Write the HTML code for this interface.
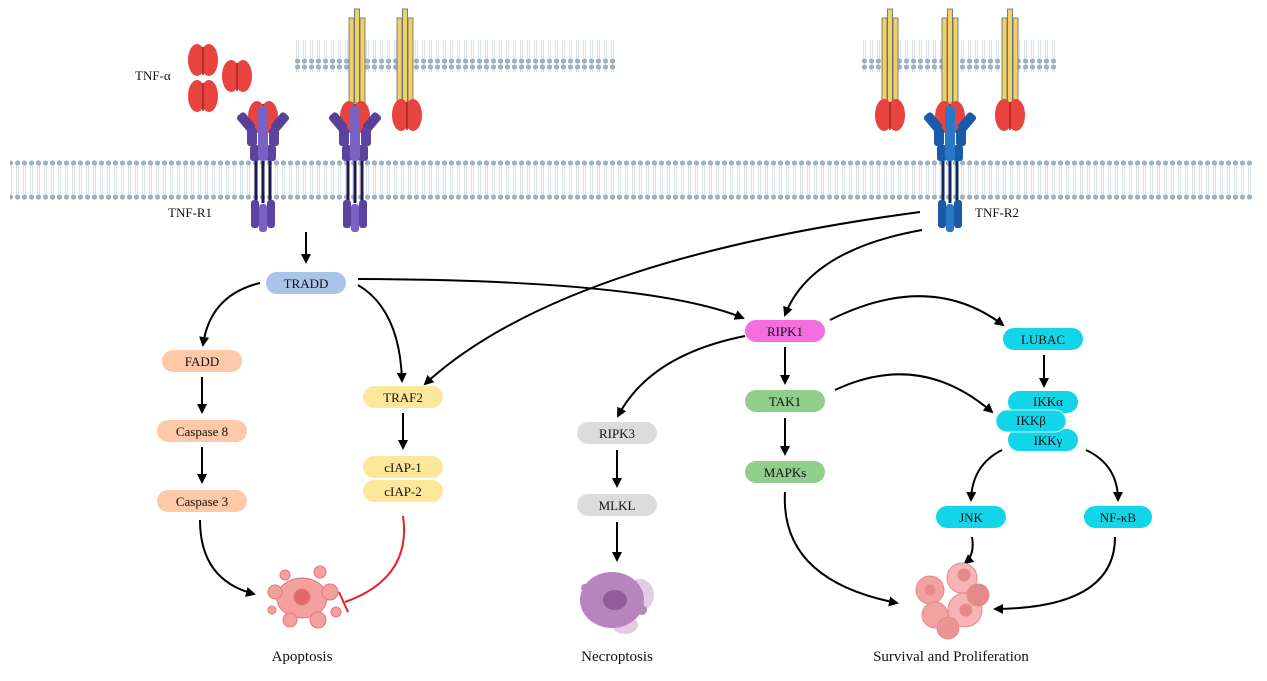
<!DOCTYPE html>
<html><head><meta charset="utf-8"><style>
body{margin:0;background:#fff}
svg{display:block}
text{font-family:"Liberation Serif",serif;font-size:13px;fill:#111}
</style></head><body>
<svg width="1267" height="681" viewBox="0 0 1267 681" xmlns="http://www.w3.org/2000/svg">
<defs>
<pattern id="dots" width="7" height="40" patternUnits="userSpaceOnUse">
<circle cx="3.5" cy="3" r="2.6" fill="#9fb0c4"/>
<circle cx="3.5" cy="37" r="2.6" fill="#9fb0c4"/>
<line x1="2.5" y1="6" x2="2.5" y2="34" stroke="#dbe3ec" stroke-width="1"/>
<line x1="4.5" y1="6" x2="4.5" y2="34" stroke="#dbe3ec" stroke-width="1"/>
</pattern>
<pattern id="dots2" width="7" height="32" patternUnits="userSpaceOnUse">
<circle cx="3.5" cy="3" r="2.6" fill="#9fb0c4"/>
<circle cx="3.5" cy="29" r="2.6" fill="#9fb0c4"/>
<line x1="2.5" y1="6" x2="2.5" y2="26" stroke="#dbe3ec" stroke-width="1"/>
<line x1="4.5" y1="6" x2="4.5" y2="26" stroke="#dbe3ec" stroke-width="1"/>
</pattern>
<marker id="ar" markerWidth="10" markerHeight="10" refX="8" refY="5" orient="auto" markerUnits="userSpaceOnUse">
<path d="M0,0 L10,5 L0,10 Z" fill="#000"/></marker>
<g id="lig">
<ellipse cx="-6" cy="0" rx="9" ry="16" fill="#e8443f"/>
<ellipse cx="6" cy="0" rx="9" ry="16" fill="#e8443f"/>
<line x1="0" y1="-13" x2="0" y2="15" stroke="#a82020" stroke-width="1.5"/>
</g>
<g id="stick">
<rect x="-8" y="0" width="5" height="85" fill="#f5d060" stroke="#4a6a8a" stroke-width="0.8"/>
<rect x="3" y="0" width="5" height="85" fill="#f5d060" stroke="#4a6a8a" stroke-width="0.8"/>
<rect x="-2.5" y="-9" width="5" height="94" fill="#f5d060" stroke="#4a6a8a" stroke-width="0.8"/>
</g>
<g id="rp">
<rect x="-22" y="-6" width="10" height="20" rx="3" transform="rotate(-40 -17 4)" fill="#56409a"/>
<rect x="12" y="-6" width="10" height="20" rx="3" transform="rotate(40 17 4)" fill="#56409a"/>
<rect x="-16" y="10" width="10" height="18" rx="3" fill="#5a44a0"/>
<rect x="6" y="10" width="10" height="18" rx="3" fill="#5a44a0"/>
<rect x="-13" y="27" width="10" height="16" rx="3" fill="#5a44a0"/>
<rect x="3" y="27" width="10" height="16" rx="3" fill="#5a44a0"/>
<rect x="-5" y="-12" width="10" height="55" rx="4" fill="#7a62c2"/>
<line x1="-7" y1="43" x2="-7" y2="85" stroke="#1e1a4a" stroke-width="3"/>
<line x1="0" y1="43" x2="0" y2="85" stroke="#1e1a4a" stroke-width="3"/>
<line x1="7" y1="43" x2="7" y2="85" stroke="#1e1a4a" stroke-width="3"/>
<rect x="-12" y="82" width="8" height="28" rx="3" fill="#5a44a0"/>
<rect x="4" y="82" width="8" height="28" rx="3" fill="#5a44a0"/>
<rect x="-4" y="86" width="8" height="28" rx="3" fill="#7a62c2"/>
</g>
<g id="rb">
<rect x="-22" y="-6" width="10" height="20" rx="3" transform="rotate(-40 -17 4)" fill="#1a5aa8"/>
<rect x="12" y="-6" width="10" height="20" rx="3" transform="rotate(40 17 4)" fill="#1a5aa8"/>
<rect x="-16" y="10" width="10" height="18" rx="3" fill="#1a5aa8"/>
<rect x="6" y="10" width="10" height="18" rx="3" fill="#1a5aa8"/>
<rect x="-13" y="27" width="10" height="16" rx="3" fill="#1a5aa8"/>
<rect x="3" y="27" width="10" height="16" rx="3" fill="#1a5aa8"/>
<rect x="-5" y="-12" width="10" height="55" rx="4" fill="#2c78c8"/>
<line x1="-7" y1="43" x2="-7" y2="85" stroke="#0c2a5a" stroke-width="3"/>
<line x1="0" y1="43" x2="0" y2="85" stroke="#0c2a5a" stroke-width="3"/>
<line x1="7" y1="43" x2="7" y2="85" stroke="#0c2a5a" stroke-width="3"/>
<rect x="-12" y="82" width="8" height="28" rx="3" fill="#1a5aa8"/>
<rect x="4" y="82" width="8" height="28" rx="3" fill="#1a5aa8"/>
<rect x="-4" y="86" width="8" height="28" rx="3" fill="#2c78c8"/>
</g>
</defs>

<rect x="10" y="160" width="1243" height="40" fill="url(#dots)"/>
<rect x="295" y="40" width="322" height="32" fill="url(#dots2)"/>
<rect x="860" y="40" width="196" height="32" fill="url(#dots2)"/>

<use href="#lig" x="203" y="60"/>
<use href="#lig" x="237" y="76"/>
<use href="#lig" x="203" y="96"/>

<use href="#stick" x="357" y="18"/>
<use href="#stick" x="405" y="18"/>
<use href="#stick" x="890" y="18"/>
<use href="#stick" x="950" y="18"/>
<use href="#stick" x="1010" y="18"/>
<use href="#lig" x="263" y="117"/>
<use href="#lig" x="355" y="117"/>
<use href="#lig" x="407" y="115"/>
<use href="#lig" x="890" y="115"/>
<use href="#lig" x="950" y="117"/>
<use href="#lig" x="1010" y="115"/>
<use href="#rp" x="263" y="118"/>
<use href="#rp" x="355" y="118"/>
<use href="#rb" x="950" y="118"/>

<text x="135" y="80">TNF-α</text>
<text x="168" y="217">TNF-R1</text>
<text x="975" y="217">TNF-R2</text>

<g fill="none" stroke="#000" stroke-width="2">
<path d="M306 232 V262" marker-end="url(#ar)"/>
<path d="M260 283 Q210 295 203 345" marker-end="url(#ar)"/>
<path d="M358 285 Q400 310 402 381" marker-end="url(#ar)"/>
<path d="M358 279 Q650 280 743 318" marker-end="url(#ar)"/>
<path d="M920 212 Q560 260 425 384" marker-end="url(#ar)"/>
<path d="M922 230 Q810 250 785 315" marker-end="url(#ar)"/>
<path d="M202 377 V412" marker-end="url(#ar)"/>
<path d="M202 447 V482" marker-end="url(#ar)"/>
<path d="M403 413 V448" marker-end="url(#ar)"/>
<path d="M200 520 Q200 580 254 594" marker-end="url(#ar)"/>
<path d="M745 336 Q650 355 618 416" marker-end="url(#ar)"/>
<path d="M617 450 V486" marker-end="url(#ar)"/>
<path d="M617 522 V560" marker-end="url(#ar)"/>
<path d="M785 347 V383" marker-end="url(#ar)"/>
<path d="M785 418 V454" marker-end="url(#ar)"/>
<path d="M830 320 Q930 270 1003 325" marker-end="url(#ar)"/>
<path d="M1044 355 V386" marker-end="url(#ar)"/>
<path d="M835 390 Q920 350 992 412" marker-end="url(#ar)"/>
<path d="M1002 450 Q972 465 971 500" marker-end="url(#ar)"/>
<path d="M1086 450 Q1118 465 1118 500" marker-end="url(#ar)"/>
<path d="M785 492 Q780 580 897 603" marker-end="url(#ar)"/>
<path d="M972 537 Q975 555 965 563" marker-end="url(#ar)"/>
<path d="M1115 537 Q1115 608 995 609" marker-end="url(#ar)"/>
</g>
<path d="M403 516 Q412 578 345 602" fill="none" stroke="#e8202a" stroke-width="2"/>
<line x1="339" y1="592" x2="348" y2="612" stroke="#e8202a" stroke-width="2"/>

<g>
<rect x="266" y="272" width="80" height="22" rx="11" fill="#a9c4e8"/>
<rect x="162" y="350" width="80" height="22" rx="11" fill="#fdc9a8"/>
<rect x="157" y="420" width="90" height="22" rx="11" fill="#fdc9a8"/>
<rect x="157" y="490" width="90" height="22" rx="11" fill="#fdc9a8"/>
<rect x="363" y="386" width="80" height="22" rx="11" fill="#fde79b"/>
<rect x="363" y="456" width="80" height="22" rx="11" fill="#fde79b"/>
<rect x="363" y="480" width="80" height="22" rx="11" fill="#fde79b"/>
<rect x="745" y="320" width="80" height="22" rx="11" fill="#f56ee0"/>
<rect x="745" y="390" width="80" height="22" rx="11" fill="#8fcf8b"/>
<rect x="745" y="461" width="80" height="22" rx="11" fill="#8fcf8b"/>
<rect x="577" y="422" width="80" height="22" rx="11" fill="#dcdcdc"/>
<rect x="577" y="494" width="80" height="22" rx="11" fill="#dcdcdc"/>
<rect x="1003" y="328" width="80" height="22" rx="11" fill="#13d5e8"/>
<rect x="1008" y="391" width="70" height="22" rx="11" fill="#13d5e8"/>
<rect x="1008" y="429" width="70" height="22" rx="11" fill="#13d5e8"/>
<rect x="996" y="410" width="70" height="22" rx="11" fill="#13d5e8" stroke="#bff4fa" stroke-width="1"/>
<rect x="936" y="506" width="70" height="22" rx="11" fill="#13d5e8"/>
<rect x="1084" y="506" width="68" height="22" rx="11" fill="#13d5e8"/>
</g>
<g text-anchor="middle">
<text x="306" y="288">TRADD</text>
<text x="202" y="366">FADD</text>
<text x="202" y="436">Caspase 8</text>
<text x="202" y="506">Caspase 3</text>
<text x="403" y="402">TRAF2</text>
<text x="403" y="472">cIAP-1</text>
<text x="403" y="496">cIAP-2</text>
<text x="785" y="336">RIPK1</text>
<text x="785" y="406">TAK1</text>
<text x="785" y="477">MAPKs</text>
<text x="617" y="438">RIPK3</text>
<text x="617" y="510">MLKL</text>
<text x="1043" y="344">LUBAC</text>
<text x="1048" y="406">IKKα</text>
<text x="1031" y="425">IKKβ</text>
<text x="1048" y="445">IKKγ</text>
<text x="971" y="522">JNK</text>
<text x="1118" y="522">NF-κB</text>
<text x="302" y="661" style="font-size:15px">Apoptosis</text>
<text x="617" y="661" style="font-size:15px">Necroptosis</text>
<text x="951" y="661" style="font-size:15px">Survival and Proliferation</text>
</g>

<g fill="#f4a0a0" stroke="#e07878" stroke-width="1">
<ellipse cx="302" cy="598" rx="25" ry="20"/>
<circle cx="275" cy="592" r="7"/><circle cx="330" cy="592" r="8"/>
<circle cx="290" cy="620" r="7"/><circle cx="318" cy="620" r="8"/>
<circle cx="285" cy="575" r="5"/><circle cx="320" cy="572" r="6"/>
<circle cx="272" cy="610" r="4"/><circle cx="336" cy="612" r="5"/>
<circle cx="302" cy="597" r="8" fill="#e06a6a"/>
</g>
<g>
<ellipse cx="640" cy="595" rx="14" ry="16" fill="#e4cce4"/>
<ellipse cx="625" cy="625" rx="13" ry="9" fill="#e4cce4"/>
<ellipse cx="612" cy="600" rx="32" ry="28" fill="#b884c0"/>
<circle cx="585" cy="588" r="4" fill="#b884c0"/>
<circle cx="642" cy="610" r="5" fill="#b884c0"/>
<ellipse cx="615" cy="600" rx="12" ry="10" fill="#935a9c"/>
</g>
<g stroke="#e88a8a" stroke-width="1">
<circle cx="930" cy="590" r="14" fill="#f2a2a2"/>
<circle cx="962" cy="578" r="15" fill="#f6b4b4"/>
<circle cx="935" cy="615" r="13" fill="#f2a2a2"/>
<circle cx="965" cy="610" r="17" fill="#f6b4b4"/>
<circle cx="948" cy="628" r="11" fill="#eb9494"/>
<circle cx="978" cy="595" r="11" fill="#e58a8a"/>
<circle cx="964" cy="575" r="6" fill="#e58a8a"/>
<circle cx="966" cy="610" r="6" fill="#e58a8a"/>
<circle cx="930" cy="590" r="5" fill="#e58a8a"/>
</g>
</svg>
</body></html>
